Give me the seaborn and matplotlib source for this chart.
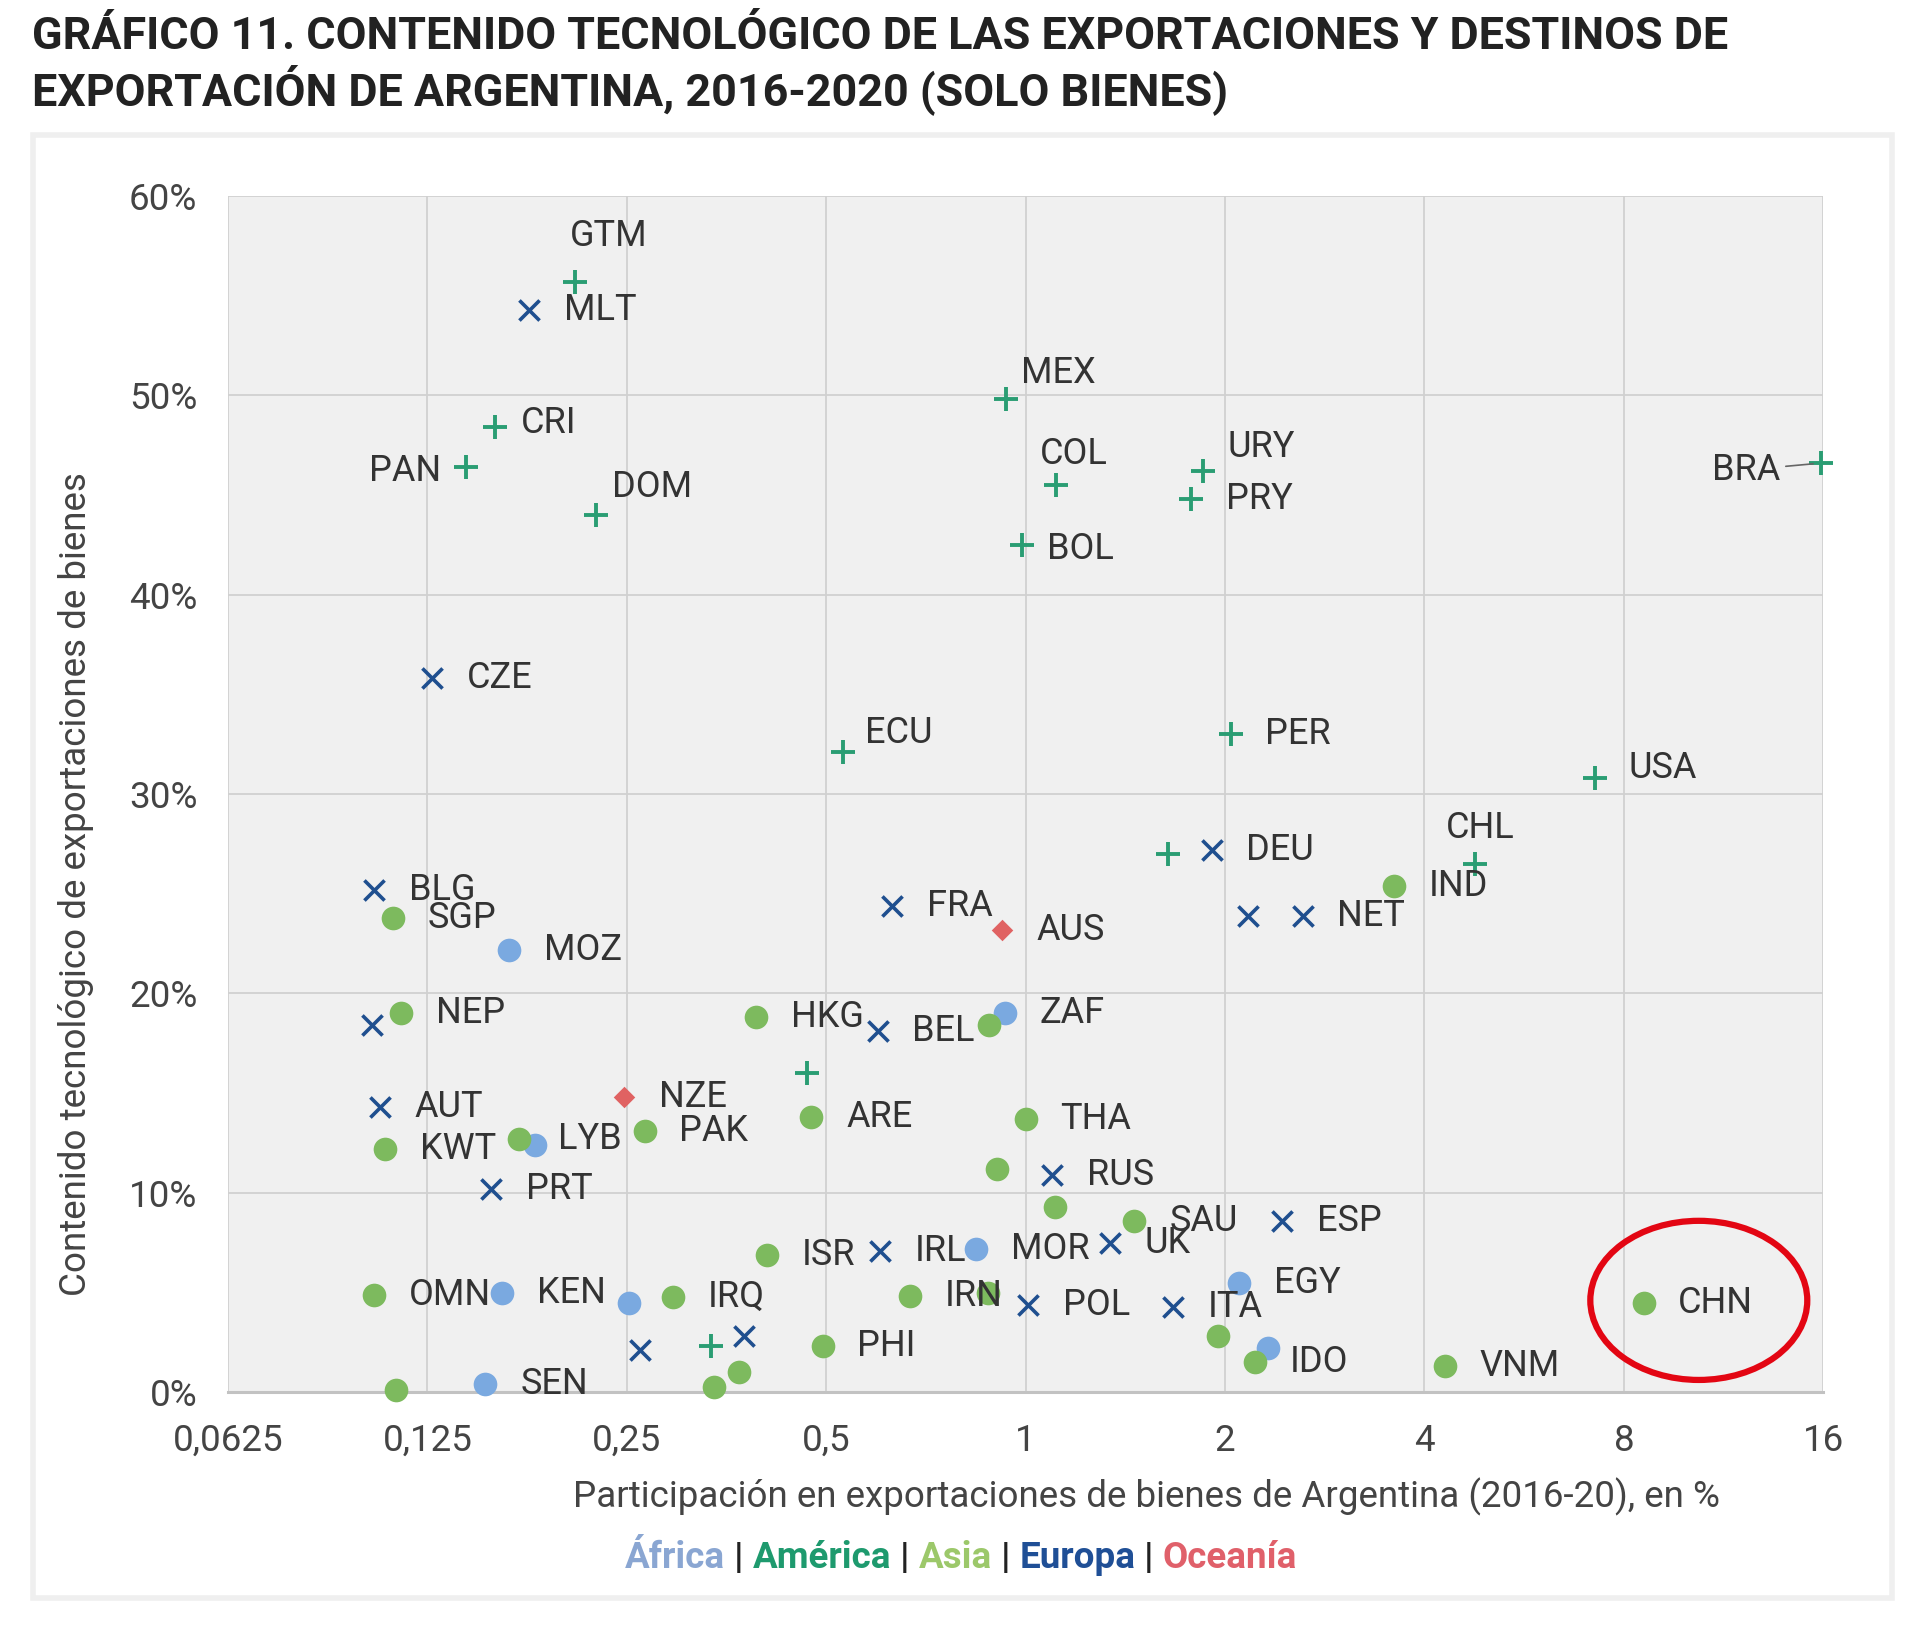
import pandas as pd
import seaborn as sns
import matplotlib.pyplot as plt
from matplotlib.patches import Ellipse, Rectangle

# Values
# x = participación en exportaciones de bienes (%), y = contenido tecnológico (%)
africa_names = ["MOZ", "ZAF", "LYB", "MOR", "KEN", "", "EGY", "", "SEN"]
africa_share = [0.166, 0.930, 0.182, 0.843, 0.162, 0.252, 2.10, 2.32, 0.153]
africa_tech = [22.2, 19.0, 12.4, 7.2, 5.0, 4.5, 5.5, 2.2, 0.4]

america_names = ["GTM", "CRI", "PAN", "DOM", "MEX", "COL", "URY", "PRY", "BOL", "BRA",
                 "ECU", "PER", "USA", "CHL", "", "", ""]
america_share = [0.209, 0.158, 0.143, 0.225, 0.934, 1.11, 1.85, 1.78, 0.988, 15.9,
                 0.530, 2.04, 7.23, 4.77, 1.64, 0.467, 0.335]
america_tech = [55.7, 48.4, 46.4, 44.0, 49.8, 45.5, 46.2, 44.8, 42.5, 46.6,
                32.1, 33.0, 30.8, 26.5, 27.0, 16.0, 2.3]

asia_names = ["SGP", "NEP", "HKG", "", "IND", "ARE", "THA", "KWT", "", "PAK", "", "",
              "SAU", "ISR", "OMN", "IRQ", "IRN", "", "PHI", "", "IDO", "VNM", "CHN",
              "", "", ""]
asia_share = [0.111, 0.114, 0.392, 0.880, 3.60, 0.475, 1.0, 0.108, 0.172, 0.266, 0.907, 1.107,
              1.46, 0.407, 0.104, 0.294, 0.670, 0.877, 0.494, 1.95, 2.22, 4.30, 8.57,
              0.112, 0.338, 0.369]
asia_tech = [23.8, 19.0, 18.8, 18.4, 25.4, 13.8, 13.7, 12.2, 12.7, 13.1, 11.2, 9.3,
             8.6, 6.9, 4.9, 4.8, 4.85, 5.0, 2.3, 2.8, 1.5, 1.3, 4.5,
             0.1, 0.25, 1.0]

europe_names = ["MLT", "CZE", "BLG", "FRA", "DEU", "", "NET", "", "BEL", "AUT", "PRT",
                "RUS", "ESP", "UK", "IRL", "POL", "ITA", "", ""]
europe_share = [0.178, 0.127, 0.104, 0.629, 1.91, 2.17, 2.62, 0.103, 0.598, 0.106, 0.156,
                1.098, 2.44, 1.34, 0.603, 1.008, 1.67, 0.262, 0.376]
europe_tech = [54.3, 35.8, 25.2, 24.4, 27.2, 23.9, 23.9, 18.4, 18.1, 14.3, 10.2,
               10.9, 8.6, 7.5, 7.1, 4.4, 4.3, 2.1, 2.8]

oceania_names = ["AUS", "NZE"]
oceania_share = [0.922, 0.248]
oceania_tech = [23.2, 14.8]

x_ticks = [0.0625, 0.125, 0.25, 0.5, 1, 2, 4, 8, 16]
x_tick_labels = ["0,0625", "0,125", "0,25", "0,5", "1", "2", "4", "8", "16"]
y_ticks = [0, 10, 20, 30, 40, 50, 60]
y_tick_labels = ["0%", "10%", "20%", "30%", "40%", "50%", "60%"]

df = pd.concat([
    pd.DataFrame({"name": africa_names, "share": africa_share, "tech": africa_tech, "region": "África"}),
    pd.DataFrame({"name": america_names, "share": america_share, "tech": america_tech, "region": "América"}),
    pd.DataFrame({"name": asia_names, "share": asia_share, "tech": asia_tech, "region": "Asia"}),
    pd.DataFrame({"name": europe_names, "share": europe_share, "tech": europe_tech, "region": "Europa"}),
    pd.DataFrame({"name": oceania_names, "share": oceania_share, "tech": oceania_tech, "region": "Oceanía"}),
], ignore_index=True)

# marker styles per region
styles = {
    "África": dict(marker="o", color="#7aa9e0", s=290, lw=0),
    "América": dict(marker="+", color="#2a9d73", s=280, lw=2.8),
    "Asia": dict(marker="o", color="#7dba5e", s=290, lw=0),
    "Europa": dict(marker="x", color="#1f4f8f", s=210, lw=2.6),
    "Oceanía": dict(marker="D", color="#e06262", s=120, lw=0),
}
legend_colors = {"África": "#8aa6d2", "América": "#1e9a6e", "Asia": "#9cc86a",
                 "Europa": "#1f4f96", "Oceanía": "#e0606a"}

# label offsets in points (dx, dy, ha); default is to the right
label_pos = {
    "GTM": (24, 33, "center"), "CRI": (19, 3, "left"), "PAN": (-18, -3, "right"),
    "DOM": (11, 20, "left"), "MEX": (11, 19, "left"), "COL": (-11, 22, "left"),
    "URY": (18, 17, "left"), "BRA": (-30, -5, "right"), "ECU": (16, 14, "left"),
    "USA": (24, 7, "left"), "CHL": (4, 26, "center"), "LYB": (16, 4, "left"),
    "BOL": (18, -3, "left"),
}

sns.set_style("whitegrid")
plt.rcParams["font.family"] = ["Roboto", "DejaVu Sans"]

fig = plt.figure(figsize=(19.2, 16.28), dpi=100)
fig.patch.set_facecolor("white")
fig.add_artist(Rectangle((0.0172, 0.0184), 0.968, 0.8987, transform=fig.transFigure,
                         facecolor="white", edgecolor="#efefef", lw=4, zorder=-1))
ax = fig.add_axes([0.1187, 0.1448, 0.8309, 0.7349])
ax.set_facecolor("#f0f0f0")

for region, st in styles.items():
    sub = df[df.region == region]
    sns.scatterplot(data=sub, x="share", y="tech", ax=ax, marker=st["marker"],
                    color=st["color"], edgecolor=st["color"], s=st["s"],
                    linewidth=st["lw"], legend=False, zorder=3, clip_on=False)

for _, r in df.iterrows():
    if not r["name"]:
        continue
    dx, dy, ha = label_pos.get(r["name"], (25, 0, "left"))
    arrow = None
    if r["name"] == "BRA":
        arrow = dict(arrowstyle="-", color="#666666", lw=1.2, shrinkA=2, shrinkB=6)
    ax.annotate(r["name"], (r["share"], r["tech"]), xytext=(dx, dy),
                textcoords="offset points", ha=ha, va="center", fontsize=26,
                color="#333333", zorder=4, arrowprops=arrow)

ax.set_xscale("log", base=2)
ax.set_xlim(0.0625, 16)
ax.set_ylim(0, 60)
ax.set_xticks(x_ticks)
ax.set_xticklabels(x_tick_labels)
ax.minorticks_off()
ax.set_yticks(y_ticks)
ax.set_yticklabels(y_tick_labels)
ax.tick_params(axis="both", length=0, labelsize=26.5, labelcolor="#444444")
ax.tick_params(axis="x", pad=22)
ax.tick_params(axis="y", pad=22)
ax.grid(True, color="#d0d0d0", lw=1.3)
ax.set_axisbelow(True)
for side in ["top", "right", "left"]:
    ax.spines[side].set_visible(False)
ax.spines["bottom"].set_color("#c2c2c2")
ax.spines["bottom"].set_linewidth(2.2)

ax.set_xlabel("Participación en exportaciones de bienes de Argentina (2016-20), en %",
              fontsize=26.5, color="#444444", va="center")
ax.xaxis.set_label_coords(0.576, -0.087)
ax.set_ylabel("Contenido tecnológico de exportaciones de bienes",
              fontsize=26.5, color="#444444", va="center")
ax.yaxis.set_label_coords(-0.095, 0.425)

# red highlight circle around CHN
ax.add_patch(Ellipse((0.922, 0.0768), 0.136, 0.133, transform=ax.transAxes, fill=False,
                     edgecolor="#e30613", lw=4.5, clip_on=False, zorder=5))

# title, fitted to the reference width
title_lines = ["GRÁFICO 11. CONTENIDO TECNOLÓGICO DE LAS EXPORTACIONES Y DESTINOS DE",
               "EXPORTACIÓN DE ARGENTINA, 2016-2020 (SOLO BIENES)"]
renderer = fig.canvas.get_renderer()
t1 = fig.text(0.0166, 1 - 37 / 1628, title_lines[0], fontsize=30, fontweight="bold",
              color="#222222", va="center", ha="left")
w = t1.get_window_extent(renderer).width
fs = 30 * 1695 / w
t1.set_fontsize(fs)
fig.text(0.0166, 1 - 90 / 1628, title_lines[1], fontsize=fs, fontweight="bold",
         color="#222222", va="center", ha="left")

# colored region legend line
pieces = []
for i, reg in enumerate(styles):
    if i > 0:
        pieces.append((" | ", "#222222"))
    pieces.append((reg, legend_colors[reg]))
texts = []
total = 0
for s, c in pieces:
    t = fig.text(0, 0.043, s, fontsize=26.5, fontweight="bold", color=c, va="center", ha="left")
    wpx = t.get_window_extent(renderer).width
    texts.append((t, wpx))
    total += wpx
x0 = 961 - total / 2
for t, wpx in texts:
    t.set_x(x0 / 1920)
    x0 += wpx

fig.savefig("out.png", dpi=100)
